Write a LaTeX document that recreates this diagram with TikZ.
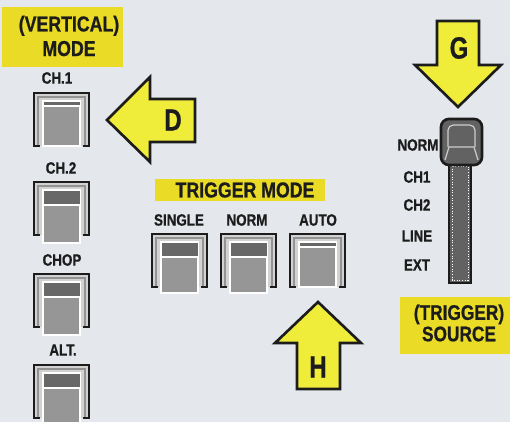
\documentclass[tikz,border=0pt]{standalone}
\usepackage{fontspec}
\usepackage{xcolor}
\usepackage{tikz}
\newfontfamily\panelfont[FakeStretch=0.82, BoldFeatures={FakeBold=0.8}]{Liberation Sans}
\newfontfamily\letterfont[FakeStretch=0.78, BoldFeatures={FakeBold=0.8}]{Liberation Sans}

\definecolor{panelbg}{RGB}{228,232,236}
\definecolor{labelyellow}{RGB}{234,220,38}
\definecolor{arrowyellow}{RGB}{240,236,58}
\definecolor{btngray}{RGB}{150,150,150}
\definecolor{btndark}{RGB}{104,104,104}
\definecolor{inkblack}{RGB}{28,28,28}
\definecolor{knobgray}{RGB}{98,98,98}

\tikzset{
  heading/.style={font=\panelfont\bfseries\fontsize{12.3}{14}\selectfont, text=inkblack, align=center, inner sep=0pt},
  caption/.style={font=\panelfont\bfseries\fontsize{9.3}{10}\selectfont, text=inkblack, inner sep=0pt},
  letter/.style={font=\letterfont\bfseries\fontsize{17.5}{17.5}\selectfont, text=inkblack, inner sep=0pt},
  bigarrow/.style={draw=inkblack, fill=arrowyellow, line width=1.5pt, line join=miter},
}

% left x, top y, band height, drop below frame
\newcommand{\pushbutton}[4]{%
  \fill[gray!35] (#1,#2) rectangle ++(55,53);
  \draw[gray!85, line width=0.7pt] (#1+4,#2+53) -- (#1+4,#2+4) -- (#1+51,#2+4) -- (#1+51,#2+53);
  \draw[white, line width=0.8pt, fill=btngray] (#1+9,#2+8) rectangle (#1+46,#2+53+#4);
  \fill[btndark] (#1+9.5,#2+9) rectangle (#1+45.5,#2+9+#3);
  \draw[white, line width=0.6pt] (#1+9.5,#2+9+#3) -- (#1+45.5,#2+9+#3);
  \draw[inkblack, line width=1.6pt, line join=miter] (#1+6,#2+53) -- (#1,#2+53) -- (#1,#2) -- (#1+55,#2) -- (#1+55,#2+53) -- (#1+49,#2+53);
}

\begin{document}
\begin{tikzpicture}[x=0.02cm, y=-0.02cm]
        \useasboundingbox (0,0) rectangle (510,422);
        \clip (0,0) rectangle (510,422);
        \fill[panelbg] (0,0) rectangle (510,422);

        % Vertical mode
        \fill[labelyellow] (2,7) rectangle (123,67);
        \node[heading] (vmode) at (69,36) {(VERTICAL)\\MODE};
        \node[caption] (ch1) at (57,78) {CH.1};
        \pushbutton{34}{93}{4}{0}
        \node[caption] (ch2) at (61,168) {CH.2};
        \pushbutton{34}{182}{14}{8}
        \node[caption] (chop) at (62,260) {CHOP};
        \pushbutton{34}{274}{14}{8}
        \node[caption] (alt) at (63,350) {ALT.};
        \pushbutton{34}{365}{14}{8}

        % Arrow D
        \draw[bigarrow] (107,120) -- (150,77) -- (150,99) -- (195,99) -- (195,142) -- (150,142) -- (150,162) -- cycle;
        \node[letter] (d) at (173,120) {D};

        % Trigger mode
        \fill[labelyellow] (155,179) rectangle (325,201);
        \node[heading] (tmode) at (245,190) {TRIGGER MODE};
        \node[caption] (single) at (179,220) {SINGLE};
        \node[caption] (norm) at (247,220) {NORM};
        \node[caption] (auto) at (318,220) {AUTO};
        \pushbutton{152}{234}{14}{6}
        \pushbutton{221}{234}{14}{6}
        \pushbutton{290}{234}{4}{0}

        % Arrow H
        \draw[bigarrow] (318,302) -- (361,343) -- (340,343) -- (340,389) -- (297,389) -- (297,343) -- (275,343) -- cycle;
        \node[letter] (h) at (318,367) {H};

        % Arrow G
        \draw[bigarrow] (437,21) -- (479,21) -- (479,65) -- (501,65) -- (458,107) -- (415,65) -- (437,65) -- cycle;
        \node[letter] (g) at (459,48) {G};

        % Source slider
        \draw[inkblack, line width=1.2pt, fill=knobgray] (449,163) rectangle (471,283);
        \draw[white, densely dotted, line width=0.5pt] (452,166) rectangle (468,280);
        \draw[inkblack, line width=1.5pt, fill=knobgray, rounded corners=4.5pt] (441,119) rectangle (482,165);
        \draw[gray!40, line width=0.7pt, rounded corners=3pt] (448,147) -- (448,125) -- (475,125) -- (475,147);
        \draw[gray!40, line width=0.7pt] (445,160) -- (449,147) -- (474,147) -- (478,160);
        \node[caption] (snorm) at (418,145) {NORM};
        \node[caption] (sch1) at (417,177) {CH1};
        \node[caption] (sch2) at (417,205) {CH2};
        \node[caption] (sline) at (417,236) {LINE};
        \node[caption] (sext) at (417,265) {EXT};

        % Trigger source
        \fill[labelyellow] (400,297) rectangle (512,354);
        \node[heading, font=\panelfont\bfseries\fontsize{12}{12.2}\selectfont] (tsource) at (459,323) {(TRIGGER)\\SOURCE};
\end{tikzpicture}
\end{document}
